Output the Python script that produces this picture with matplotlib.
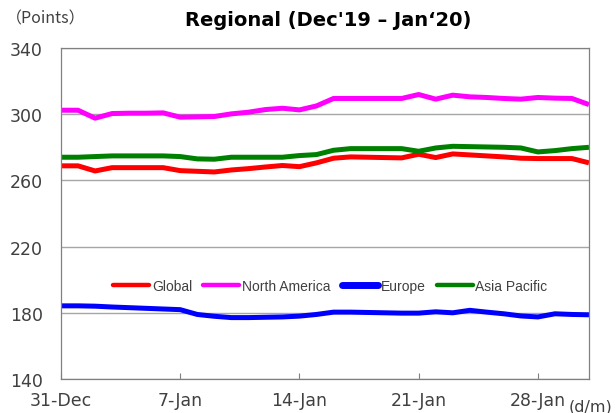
import pandas as pd
import numpy as np
import matplotlib.pyplot as plt

# Daily index levels, 31 Dec 2019 - 31 Jan 2020
dates = pd.date_range('2019-12-31', '2020-01-31', freq='D')

global_idx = [268.8, 268.8, 265.7, 267.7, 267.7, 267.7, 267.7, 265.9, 265.5, 265.1,
              266.3, 267.1, 268.1, 269.0, 268.3, 270.6, 273.4, 274.2, 274.0, 273.8,
              273.6, 275.8, 273.8, 276.0, 275.4, 274.8, 274.2, 273.4, 273.2, 273.2,
              273.2, 270.6]
north_america = [302.4, 302.4, 297.6, 300.4, 300.6, 300.6, 300.8, 298.2, 298.4, 298.6,
                 300.2, 301.2, 302.8, 303.6, 302.6, 305.0, 309.5, 309.5, 309.5, 309.5,
                 309.5, 311.9, 309.1, 311.5, 310.5, 310.1, 309.5, 309.1, 310.1, 309.7,
                 309.5, 305.8]
europe = [184.2, 184.2, 184.0, 183.5, 183.1, 182.7, 182.3, 181.9, 179.0, 177.9,
          177.1, 177.1, 177.3, 177.5, 178.0, 179.0, 180.4, 180.4, 180.2, 180.0,
          179.8, 179.8, 180.6, 180.0, 181.5, 180.4, 179.4, 178.1, 177.5, 179.4,
          179.0, 178.8]
asia_pacific = [274.0, 274.0, 274.4, 274.8, 274.8, 274.8, 274.8, 274.4, 273.0, 272.8,
                274.0, 274.0, 274.0, 274.0, 275.0, 275.6, 278.2, 279.2, 279.2, 279.2,
                279.2, 277.6, 279.6, 280.6, 280.4, 280.2, 280.0, 279.6, 277.2, 278.0,
                279.2, 280.0]

tick_dates = ['2019-12-31', '2020-01-07', '2020-01-14', '2020-01-21', '2020-01-28']
tick_labels = ['31-Dec', '7-Jan', '14-Jan', '21-Jan', '28-Jan']
y_ticks = [140, 180, 220, 260, 300, 340]

TEXT = '#404040'

fig = plt.figure(figsize=(6.16, 4.14), dpi=100)
ax = fig.add_axes([61 / 616, 1 - 380 / 414, 528 / 616, 331 / 414])

ax.plot(dates, global_idx, color='#ff0000', lw=3.6, label='Global', solid_capstyle='butt')
ax.plot(dates, north_america, color='#ff00ff', lw=3.6, label='North America', solid_capstyle='butt')
ax.plot(dates, europe, color='#0000ff', lw=3.6, label='Europe', solid_capstyle='butt')
ax.plot(dates, asia_pacific, color='#008000', lw=3.6, label='Asia Pacific', solid_capstyle='butt')

ax.set_xlim(dates[0], dates[-1])
ax.set_ylim(140, 340)
ax.set_yticks(y_ticks)
ax.set_xticks(pd.to_datetime(tick_dates))
ax.set_xticklabels(tick_labels)
ax.grid(axis='y', color='#a6a6a6', lw=1.0)
ax.set_axisbelow(True)

for s in ax.spines.values():
    s.set_color('#808080')
    s.set_linewidth(0.9)

ax.tick_params(axis='x', direction='in', length=4, color='#808080', pad=9,
               labelsize=12.5, labelcolor=TEXT)
ax.tick_params(axis='y', length=0, pad=13, labelsize=12.5, labelcolor=TEXT)

leg = ax.legend(loc='center', bbox_to_anchor=(0.51, 0.281), ncol=4, frameon=False,
                prop={'family': 'Liberation Sans', 'size': 10},
                handlelength=2.6, handletextpad=0.2, columnspacing=0.8)
for h, t in zip(leg.get_lines(), leg.get_texts()):
    h.set_linewidth(5 if t.get_text() == 'Europe' else 3.2)
    h.set_solid_capstyle('round')
    t.set_color(TEXT)

fig.text(328 / 616, 1 - 21 / 414, "Regional (Dec'19 \u2013 Jan\u201820)", ha='center', va='center',
         fontsize=14, fontweight='bold', family='DejaVu Sans')
fig.text(6 / 616, 1 - 19 / 414, '\uff08Points\uff09', ha='left', va='center',
         fontsize=11.5, color=TEXT, family=['Noto Sans CJK JP', 'DejaVu Sans'])
fig.text(591 / 616, 1 - 407 / 414, '(d/m)', ha='center', va='center',
         fontsize=11.5, color=TEXT)

fig.savefig('out.png', dpi=100)
